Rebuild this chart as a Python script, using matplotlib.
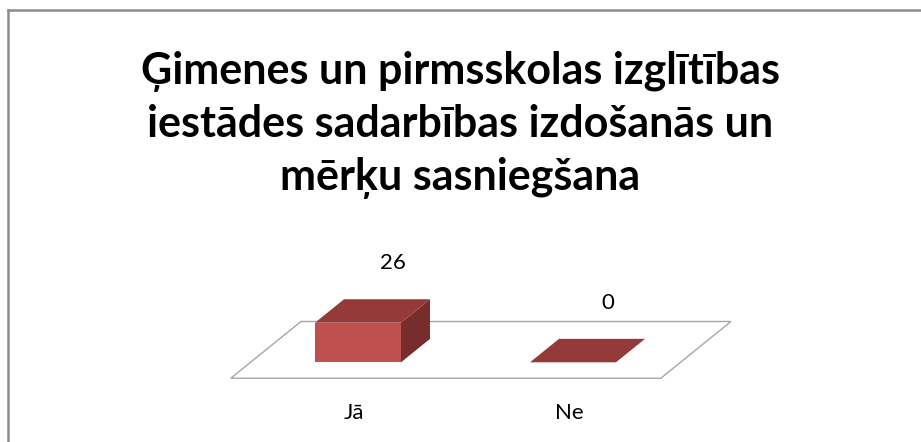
import numpy as np
import matplotlib.pyplot as plt
from matplotlib.patches import Polygon
from matplotlib.lines import Line2D

title = "Ģimenes un pirmsskolas izglītības\niestādes sadarbības izdošanās un\nmērķu sasniegšana"
categories = ["Jā", "Ne"]
values = [26, 0]

FRONT = "#C0504D"
TOP = "#943A38"
SIDE = "#772D2B"
FLOOR_EDGE = "#A6A6A6"

# pseudo 3d: depth direction in data units (category units, value units)
DX, DY = 0.135, 15.4
BAR_W = 0.4
FLOOR_D0, FLOOR_D1 = -0.68, 1.74


def shift(pts, d):
    return [(x + d * DX, y + d * DY) for x, y in pts]


def draw_bar(ax, x, v):
    l, r = x - BAR_W / 2, x + BAR_W / 2
    front = [(l, 0), (r, 0), (r, v), (l, v)]
    top = [(l, v), (r, v)] + shift([(r, v), (l, v)], 1)
    side = [(r, 0), (r, v)] + shift([(r, v), (r, 0)], 1)
    if v > 0:
        ax.add_patch(Polygon(side, closed=True, fc=SIDE, ec="none"))
        ax.add_patch(Polygon(front, closed=True, fc=FRONT, ec="none"))
    ax.add_patch(Polygon(top, closed=True, fc=TOP, ec="none"))


fig = plt.figure(figsize=(9.21, 4.42), dpi=100)
plt.rcParams['font.family'] = ['Lato', 'DejaVu Sans']

# axes spans whole figure; limits set so that 1 category = 215 px, 1 unit = 1.523 px
ax = fig.add_axes([0, 0, 1, 1])
ax.set_xlim(-358 / 215, (921 - 358) / 215)
ax.set_ylim((362.3 - 442) / 1.523, 362.3 / 1.523)
ax.axis("off")

n = len(categories)
floor = shift([(-0.5, 0), (n - 0.5, 0)], FLOOR_D0) + shift([(n - 0.5, 0), (-0.5, 0)], FLOOR_D1)
ax.add_patch(Polygon(floor, closed=True, fc="white", ec=FLOOR_EDGE, lw=1.0))

for i, (c, v) in enumerate(zip(categories, values)):
    draw_bar(ax, i, v)
    lx, ly = shift([(i, v)], 1)[0]
    ax.annotate(str(v), (lx, ly), xytext=(6, 36), textcoords="offset pixels",
                ha="center", va="center", fontsize=16)
    fx, fy = shift([(i, 0)], FLOOR_D0)[0]
    ax.annotate(c, (i, fy), xytext=(-4, -35), textcoords="offset pixels",
                ha="center", va="center", fontsize=16)

fig.text(0.5, 0.885, title, ha="center", va="top", fontsize=31,
         fontweight="bold", linespacing=1.38)

# chart border (only top and left visible in the crop)
fig.add_artist(Line2D([8 / 921, 1], [1 - 10 / 442] * 2, color="#8C8C8C", lw=1.8))
fig.add_artist(Line2D([8 / 921] * 2, [0, 1 - 10 / 442], color="#8C8C8C", lw=1.8))

fig.savefig("out.png", dpi=100)
